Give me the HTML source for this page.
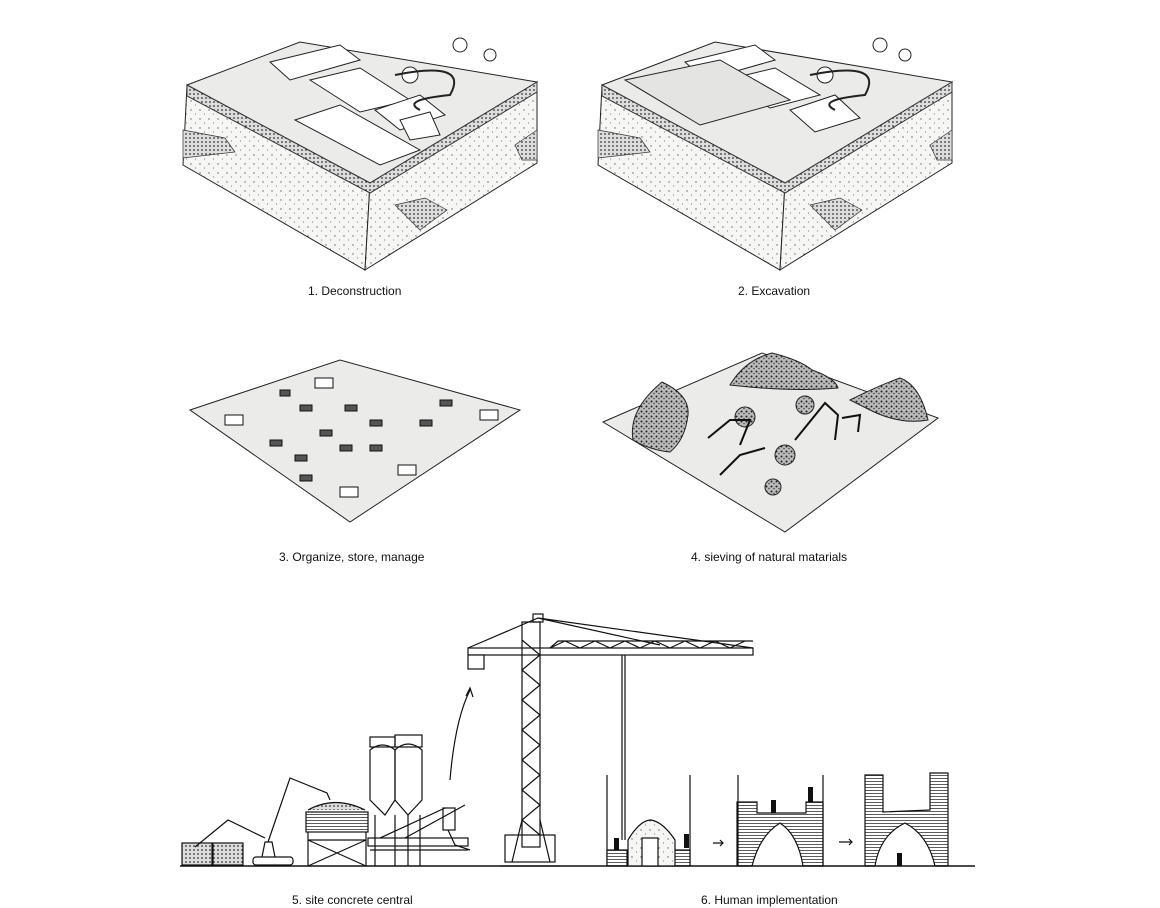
<!DOCTYPE html>
<html><head><meta charset="utf-8"><style>
body{margin:0;background:#fff;width:1160px;height:908px;overflow:hidden;font-family:"Liberation Sans",sans-serif}
.l{position:absolute;font-size:12px;color:#111;white-space:nowrap}
svg{position:absolute;left:0;top:0}
</style></head><body>
<svg width="1160" height="908" viewBox="0 0 1160 908">
<defs>
<pattern id="dots" width="9" height="9" patternUnits="userSpaceOnUse"><rect width="9" height="9" fill="#f6f6f4"/><circle cx="2" cy="2" r="0.7" fill="#666"/><circle cx="6.5" cy="6" r="0.6" fill="#888"/></pattern>
<pattern id="dense" width="4" height="4" patternUnits="userSpaceOnUse"><rect width="4" height="4" fill="#ddd"/><circle cx="2" cy="2" r="0.9" fill="#333"/></pattern>
<pattern id="rock" width="5" height="5" patternUnits="userSpaceOnUse"><rect width="5" height="5" fill="#bbb"/><circle cx="1.5" cy="1.5" r="1" fill="#222"/><circle cx="4" cy="3.5" r="0.8" fill="#444"/></pattern>
<pattern id="hatch" width="6" height="3" patternUnits="userSpaceOnUse"><rect width="6" height="3" fill="#fff"/><line x1="0" y1="1.5" x2="6" y2="1.5" stroke="#333" stroke-width="0.8"/></pattern>
<g id="blk">
<polygon points="187,85 370,183 365,270 183,165" fill="url(#dots)" stroke="#222"/>
<polygon points="370,183 537,82 537,163 365,270" fill="url(#dots)" stroke="#222"/>
<polygon points="187,85 300,42 537,82 370,183" fill="#ebebe9" stroke="#222"/>
<polygon points="187,85 370,183 537,82 537,92 370,193 187,96" fill="url(#dense)" stroke="#333"/>
<polygon points="183,130 225,138 235,152 183,158" fill="url(#dense)" stroke="#333" stroke-width=".7"/>
<polygon points="395,205 425,198 447,210 420,230" fill="url(#dense)" stroke="#333" stroke-width=".7"/>
<polygon points="515,145 537,130 537,160 522,160" fill="url(#dense)" stroke="#333" stroke-width=".7"/>
</g>
</defs>
<use href="#blk"/>
<g fill="#fff" stroke="#222">
<polygon points="270,62 340,45 360,60 290,80"/><polygon points="310,80 360,68 410,100 360,112"/>
<polygon points="295,120 340,105 420,150 380,165"/><polygon points="375,110 420,95 445,115 400,130"/>
<polygon points="400,120 430,112 440,135 410,140"/>
<circle cx="410" cy="75" r="8"/><circle cx="460" cy="45" r="7"/><circle cx="490" cy="55" r="6"/>
</g>
<path d="M395,75 Q470,60 450,95 Q400,100 420,110" fill="none" stroke="#222" stroke-width="2"/>
<use href="#blk" x="415"/>
<g fill="#fff" stroke="#222">
<polygon points="685,62 755,45 775,60 705,80"/><polygon points="725,80 775,68 820,95 770,108"/>
<polygon points="625,80 720,60 790,100 700,125" fill="#e4e4e2"/>
<polygon points="790,110 835,95 860,118 815,132"/>
<circle cx="825" cy="75" r="8"/><circle cx="880" cy="45" r="7"/><circle cx="905" cy="55" r="6"/>
</g>
<path d="M810,75 Q885,60 865,95 Q815,100 835,110" fill="none" stroke="#222" stroke-width="2"/>
<!-- plates -->
<polygon points="190,410 340,360 520,410 350,522" fill="#ebebe9" stroke="#222"/>
<polygon points="603,422 762,353 938,418 785,532" fill="#ebebe9" stroke="#222"/>
<g fill="#555" stroke="#111">
<rect x="225" y="415" width="18" height="10" fill="#fff"/><rect x="315" y="378" width="18" height="10" fill="#fff"/><rect x="480" y="410" width="18" height="10" fill="#fff"/><rect x="398" y="465" width="18" height="10" fill="#fff"/><rect x="340" y="487" width="18" height="10" fill="#fff"/>
<rect x="280" y="390" width="10" height="6"/><rect x="300" y="405" width="12" height="6"/><rect x="345" y="405" width="12" height="6"/><rect x="370" y="420" width="12" height="6"/><rect x="320" y="430" width="12" height="6"/><rect x="270" y="440" width="12" height="6"/><rect x="295" y="455" width="12" height="6"/><rect x="340" y="445" width="12" height="6"/><rect x="370" y="445" width="12" height="6"/><rect x="420" y="420" width="12" height="6"/><rect x="440" y="400" width="12" height="6"/><rect x="300" y="475" width="12" height="6"/>
</g>
<g fill="url(#rock)" stroke="#222">
<path d="M633,440 Q628,410 662,382 Q690,395 688,415 Q685,440 670,452 Q650,450 633,440Z"/>
<path d="M730,385 Q745,360 772,353 Q800,360 812,370 Q835,378 838,388 Q790,392 730,385Z"/>
<path d="M850,400 Q880,385 900,378 Q920,385 928,420 Q900,425 870,410Z"/>
<circle cx="805" cy="405" r="9"/><circle cx="773" cy="487" r="8"/><circle cx="785" cy="455" r="10"/><circle cx="745" cy="417" r="10"/>
</g>
<g stroke="#111" stroke-width="2" fill="none">
<path d="M708,438 L730,420 L750,420 L740,445"/><path d="M795,440 L825,403 L838,415 L835,440"/><path d="M720,475 L740,455 L765,448"/><path d="M842,418 L860,415 L858,432"/>
</g>
<!-- bottom scene -->
<g stroke="#111" fill="none" stroke-width="1.2">
<line x1="180" y1="866" x2="975" y2="866" stroke-width="1.5"/>
<rect x="182" y="843" width="30" height="22" fill="url(#dense)"/><rect x="213" y="843" width="30" height="22" fill="url(#dense)"/>
<path d="M195,847 L228,820 L265,838"/>
<rect x="253" y="857" width="40" height="8" rx="3"/>
<path d="M262,857 L265,842 L272,842 L275,857 M268,842 L290,778 L327,793 L330,800"/>
<rect x="306" y="812" width="62" height="20" fill="url(#hatch)"/>
<path d="M308,810 Q335,795 365,810" fill="url(#dense)"/>
<path d="M308,832 L308,866 M366,832 L366,866 M308,840 L366,866 M366,840 L308,866 M308,840 L366,840"/>
<path d="M370,750 L370,800 L385,815 L395,800 L395,750 Q383,740 370,750Z"/>
<path d="M395,750 L395,800 L408,815 L422,800 L422,750 Q408,738 395,750Z"/>
<rect x="370" y="737" width="25" height="10"/><rect x="395" y="735" width="27" height="12"/>
<path d="M375,815 L375,866 M395,815 L395,866 M408,815 L408,866 M420,815 L420,866"/>
<rect x="368" y="838" width="100" height="8"/><path d="M370,850 L468,850 M380,838 L445,808 M405,838 L465,805"/>
<rect x="443" y="808" width="12" height="22"/><path d="M448,830 L455,845 L470,850"/>
<path d="M450,780 Q455,720 470,690" /><path d="M466,696 L470,688 L473,697"/>
<!-- crane -->
<rect x="522" y="622" width="18" height="225"/>
<path d="M522,640 L540,655 L522,670 L540,685 L522,700 L540,715 L522,730 L540,745 L522,760 L540,775 L522,790 L540,805 L522,820 L540,835"/>
<rect x="505" y="835" width="50" height="27"/>
<path d="M512,862 L522,820 M550,862 L540,820 M500,866 L560,866"/>
<rect x="533" y="614" width="10" height="8"/>
<rect x="468" y="648" width="285" height="7"/>
<path d="M468,648 L538,618 L660,645 M538,618 L753,648"/>
<path d="M550,648 L558,641 L753,641 M550,648 L565,641 L580,648 L595,641 L610,648 L625,641 L640,648 L655,641 L670,648 L685,641 L700,648 L715,641 L730,648 L745,641"/>
<rect x="468" y="655" width="16" height="14" fill="#fff"/>
<line x1="622" y1="655" x2="622" y2="840"/><line x1="625" y1="655" x2="625" y2="840"/>
<!-- stage 6 -->
<line x1="607" y1="775" x2="607" y2="866"/><line x1="690" y1="775" x2="690" y2="866"/>
<rect x="607" y="850" width="20" height="16" fill="url(#hatch)"/><rect x="673" y="850" width="17" height="16" fill="url(#hatch)"/>
<path d="M628,866 L628,840 Q640,820 651,820 Q663,822 675,840 L675,866Z" fill="url(#dots)"/><rect x="642" y="838" width="16" height="28" fill="#fff"/>
<path d="M737,866 L737,802 L757,802 L757,813 L806,813 L806,802 L823,802 L823,866 L803,866 Q798,835 780,823 Q760,835 752,866Z" fill="url(#hatch)"/>
<line x1="738" y1="775" x2="738" y2="866"/><line x1="823" y1="775" x2="823" y2="866"/>
<path d="M865,866 L865,775 L883,775 L883,812 L930,810 L930,773 L948,773 L948,866 L935,866 Q928,835 905,823 Q880,835 875,866Z" fill="url(#hatch)"/>
<path d="M713,843 L723,843 M720,840 L723,843 L720,846 M839,842 L852,842 M849,839 L852,842 L849,845"/>
</g>
<g fill="#111">
<rect x="614" y="838" width="5" height="12"/><rect x="684" y="834" width="5" height="14"/>
<rect x="771" y="800" width="5" height="13"/><rect x="808" y="787" width="5" height="15"/><rect x="897" y="853" width="5" height="13"/>
</g>
</svg>
<div class="l" style="left:308px;top:284px">1. Deconstruction</div>
<div class="l" style="left:738px;top:284px">2. Excavation</div>
<div class="l" style="left:279px;top:550px">3. Organize, store, manage</div>
<div class="l" style="left:691px;top:550px">4. sieving of natural matarials</div>
<div class="l" style="left:292px;top:893px">5. site concrete central</div>
<div class="l" style="left:701px;top:893px">6. Human implementation</div>
</body></html>
